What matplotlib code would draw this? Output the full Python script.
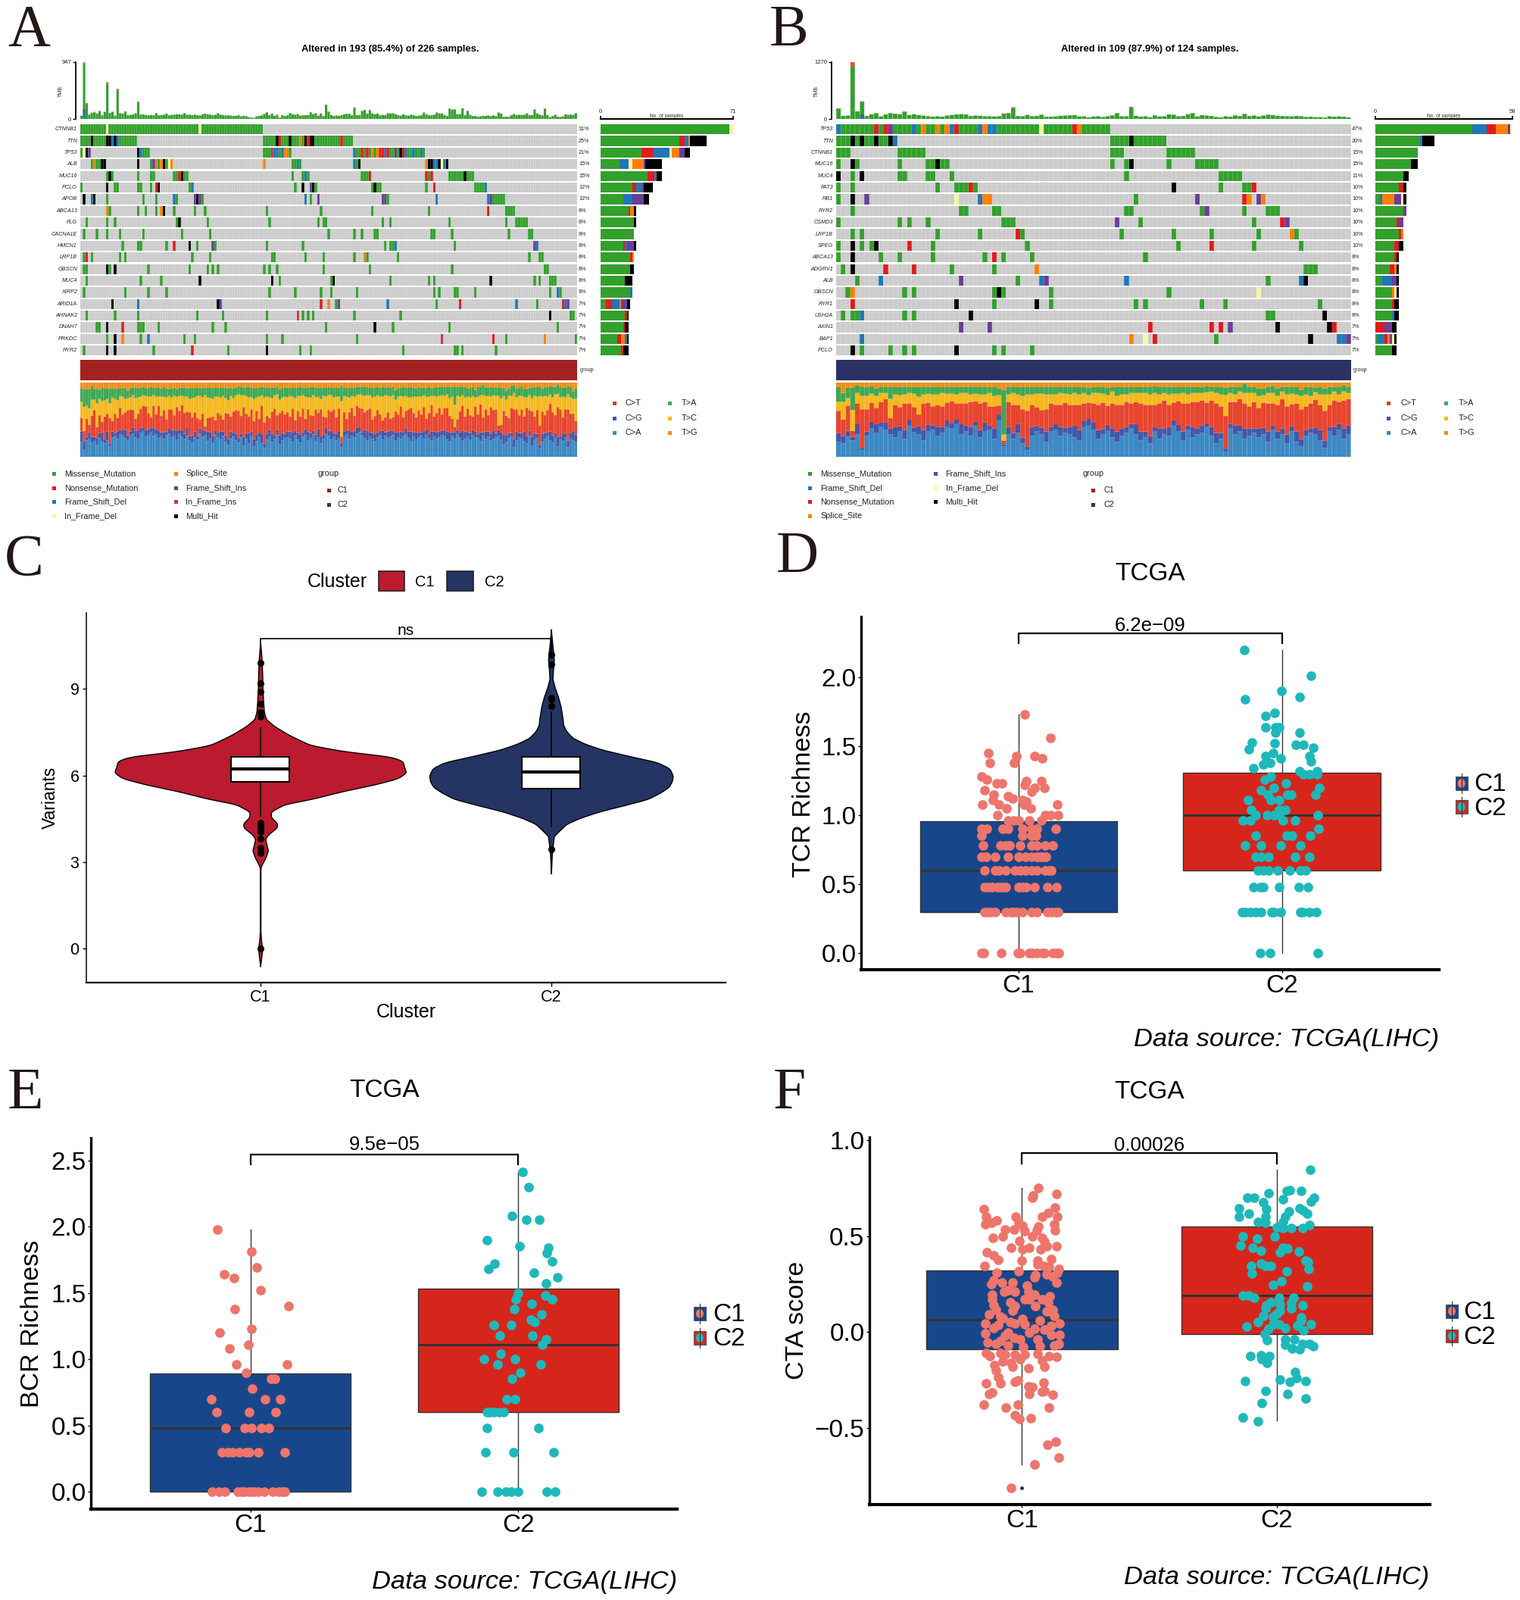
#!/usr/bin/env python3
"""Six panel figure: two oncoplots, a violin plot and three box/jitter plots."""

from __future__ import annotations

import re

import matplotlib

matplotlib.use("Agg")
import matplotlib.pyplot as plt
import numpy as np
from matplotlib.colors import BoundaryNorm, ListedColormap
from matplotlib.patches import Ellipse, Rectangle

W, H = 2007, 2112

TYPE_COLORS = {
    "B": "#CCCCCC",  # no mutation
    "M": "#33A02C",
    "N": "#E31A1C",
    "D": "#1F78B4",
    "I": "#6A3D9A",
    "S": "#FF7F00",
    "Y": "#F7F7A0",
    "R": "#C8344A",
    "H": "#000000",
}
TITV_COLORS = ["#3C89C4", "#4557A8", "#E8452F", "#F4B91F", "#3FA854", "#EE8F1A"]
TITV_NAMES = ["C>T", "C>G", "C>A", "T>A", "T>C", "T>G"]
TITV_KEYS = ["#E8352B", "#4557A8", "#3C89C4", "#3FA854", "#F4B91F", "#EE8F1A"]
GROUP_C1 = "#A42121"
GROUP_C2 = "#2A3264"
BOX_C1 = "#17478A"
BOX_C2 = "#D6261C"
DOT_C1 = "#EE756B"
DOT_C2 = "#1FB8BA"

# ---- panel A
genes_a = ["CTNNB1", "TTN", "TP53", "ALB", "MUC16", "PCLO", "APOB", "ABCA13", "FLG", "CACNA1E",
           "HMCN1", "LRP1B", "OBSCN", "MUC4", "XIRP2", "ARID1A", "AHNAK2", "DNAH7", "PRKDC", "RYR2"]
pct_a = [31, 25, 21, 15, 15, 12, 12, 8, 8, 8, 8, 8, 8, 8, 8, 7, 7, 7, 7, 7]
events_a = [
    "0-9M 10Y 11-45M 46Y 47-70M",
    "0-3M 4H 5-9M 10H 11H 12D 13H 14D 15-21M 71-75M 76H 77N 78-80M 81H 82-84M 85S 86M 87H 88N 89H 90H 91-100M 101N 102-105M",
    "0M 1Y 2H 3I 22H 23D 24-26M 71-73M 74R 75D 76D 77M 78D 79S 80S 81M 106D 107M 108M 109N 110M 111N 112M 113S 114M 115S 116N 117N 118D 119N 120M 121M 122I 123M 124H 125N 126D 127M 128M 129D 130M 131M 132D 133M",
    "4M 5S 6M 7M 8H 9H 22H 27M 28I 29S 30M 31S 32H 33M 34Y 35S 71S 82M 83M 84D 85M 106D 107M 108H 134S 135H 136H 137D 138D 139H 140Y 141D 142H",
    "10M 11H 12M 22M 27M 28M 36M 37M 38N 39H 40M 41M 82M 86M 87D 88M 109-111M 112N 134N 135M 136N 143-148M 149H 150-152M",
    "0M 10H 13M 14M 22M 23M 27M 29N 30H 42M 43D 83M 86H 89I 90H 91M 113M 114H 115M 116M 134M 137N 153-156M 157D",
    "1H 4D 5H 10M 24M 29M 36D 37M 44I 45H 46I 47M 87D 89M 92I 117I 118I 119M 138D 158D 159I 160-164M",
    "10S 11M 22M 25M 29M 31S 32H 36M 44M 48M 72M 93M 113M 135M 158N 165-168M",
    "2M 10M 13M 37M 38H 49M 73M 92M 94M 95M 117M 120M 143M 165M 169-173M",
    "1M 6M 10M 15M 24M 39M 50M 96M 106M 109M 114M 115M 136M 137M 144M 166M 174M 175M",
    "16M 22M 23M 33M 36N 42H 45M 51I 52M 72M 86M 118M 120M 121M 122D 145M 176I 177D",
    "1M 2N 4M 15M 17M 43M 50M 74M 75M 87M 94M 106M 110S 111M 123M 174M 178M 179M",
    "1M 2M 10H 11M 13H 26M 42M 49M 51M 53M 71M 73M 76M 94M 112M 144M 180M 181M",
    "2M 23M 31M 46H 74H 77M 97M 98H 120M 135M 137M 159H 176M 178M 182-184M",
    "1M 17M 26M 33M 73M 83M 93M 97M 107M 137M 139M 145M 146M 153M 182M 185D 186M",
    "12H 22D 53H 54I 93N 96S 99M 100I 119D 138M 147N 169D 177M 187N 188D 189I",
    "2M 13M 22M 45M 55M 72M 84R 86M 88M 90M 106M 124M 182H 190M 191M",
    "6M 7M 10H 16N 22M 23M 24M 30M 51M 56M 95M 114H 121M 143M 185M",
    "10M 13H 16S 23M 26D 40M 44M 72M 78M 107M 140R 160N 165M 180S 192M",
    "1M 10H 13H 28M 43N 57M 72H 85M 89M 125M 145M 146M 148M 161M",
]
# per gene sample counts by variant type, in stacking order of the side bars
side_a = [
    "69M 2Y", "42M 3N 2D 1S 9H", "22M 6N 9D 1Y 4S 3I 3H", "10M 5D 2Y 6S 1I 9H", "25M 4N 1D 3H",
    "17M 2N 3D 1I 5H", "12M 5D 6I 3H", "15M 1N 2S 1H", "18M 1H", "18M",
    "12M 1N 1D 4I 1H", "16M 1N 1S", "16M 2H", "13M 4H", "16M 1D",
    "3M 3N 4D 1S 3I 2H", "13M 1N 1H", "12M 1N 2H", "9M 2N 2S 1D 1H", "11M 1N 3H",
]
tmb_a = [
    55, 925, 250, 72, 98, 110, 90, 125, 60, 118, 590, 100, 120, 55, 470, 95, 90, 120, 62, 68,
    75, 95, 275, 72, 78, 62, 62, 66, 60, 92, 60, 66, 70, 88, 60, 68, 70, 78, 78, 72,
    92, 70, 70, 62, 72, 62, 58, 72, 88, 76, 72, 62, 68, 90, 72, 62, 58, 60, 55, 50,
    52, 62, 42, 52, 45, 30, 22, 15, 42, 50, 60, 86, 105, 62, 88, 52, 60, 20, 62, 48,
    60, 95, 78, 70, 82, 55, 50, 62, 66, 108, 80, 96, 54, 92, 48, 230, 122, 65, 48, 58,
    52, 62, 78, 85, 86, 60, 185, 62, 62, 128, 150, 90, 140, 92, 78, 90, 60, 68, 62, 88,
    92, 96, 78, 62, 56, 76, 60, 56, 70, 62, 48, 56, 62, 100, 78, 60, 62, 70, 100, 92,
    90, 66, 48, 165, 155, 160, 80, 78, 178, 58, 135, 68, 48, 50, 38, 42, 52, 50, 58, 48,
    60, 46, 100, 88, 35, 38, 36, 62, 82, 66, 70, 68, 70, 92, 60, 62, 158, 90, 72, 58,
    168, 65, 28, 48, 70, 38, 30, 42, 78, 70, 70, 68, 95,
]
tmb_cap_a = {1: 18, 2: 14, 4: 8, 5: 8, 7: 8, 10: 22, 14: 30, 17: 8, 22: 14, 29: 8, 40: 6, 47: 8, 53: 6, 72: 8, 76: 12, 81: 6,
             86: 12, 89: 8, 95: 10, 106: 8, 109: 6, 112: 8, 119: 8, 133: 8, 138: 8, 143: 8, 149: 6, 162: 8, 174: 8, 180: 6, 186: 6}
tmb_base_a = {1: [("D", 130), ("I", 30)], 10: [("D", 8)], 86: [("D", 8)]}

ca_a = [
    20, 9, 22, 24, 19, 21, 16, 25, 20, 18, 22, 14, 26, 27, 24, 30, 28, 25, 22, 29,
    31, 26, 24, 32, 34, 27, 29, 33, 28, 30, 25, 27, 24, 29, 31, 26, 28, 23, 30, 27,
    24, 28, 22, 19, 26, 23, 31, 27, 29, 21, 25, 18, 30, 26, 23, 28, 20, 16, 24, 27,
    22, 19, 26, 15, 24, 18, 28, 14, 21, 26, 18, 12, 23, 27, 20, 24, 29, 17, 22, 25,
    26, 24, 20, 28, 23, 19, 27, 29, 22, 25, 30, 21, 26, 18, 24, 31, 28, 23, 27, 22,
    25, 13, 27, 30, 24, 28, 26, 31, 33, 29, 25, 22, 27, 24, 21, 26, 29, 23, 28, 25,
    27, 29, 22, 26, 24, 28, 30, 25, 21, 27, 23, 26, 28, 24, 29, 25, 22, 27, 24, 26,
    29, 27, 23, 21, 28, 25, 30, 26, 22, 24, 27, 23, 29, 26, 25, 21, 28, 24, 27, 22,
    24, 26, 28, 23, 17, 20, 25, 27, 13, 22, 26, 24, 21, 18, 28, 15, 23, 25, 12, 20,
    24, 27, 22, 19, 25, 14, 23, 21, 26, 13, 24, 22, 20,
]
cg_a = [
    14, 12, 5, 9, 8, 6, 10, 7, 13, 6, 12, 4, 8, 5, 10, 6, 9, 11, 7, 5,
    8, 9, 12, 7, 5, 9, 8, 6, 11, 7, 10, 6, 9, 5, 7, 10, 8, 12, 6, 9,
    7, 11, 6, 10, 8, 5, 7, 9, 6, 13, 8, 10, 5, 7, 11, 6, 9, 8, 10, 6,
    9, 7, 5, 12, 8, 14, 6, 10, 9, 7, 13, 6, 8, 9, 11, 5, 7, 12, 10, 6,
    8, 10, 13, 7, 9, 11, 6, 8, 12, 7, 5, 9, 11, 10, 6, 8, 7, 12, 5, 9,
    10, 6, 7, 5, 12, 6, 9, 8, 7, 4, 11, 13, 6, 8, 10, 7, 6, 12, 5, 9,
    8, 6, 11, 7, 10, 5, 8, 9, 13, 6, 10, 7, 5, 11, 8, 6, 12, 7, 9, 8,
    6, 9, 11, 12, 5, 8, 6, 7, 13, 10, 6, 9, 7, 8, 6, 12, 5, 10, 7, 9,
    11, 6, 8, 10, 13, 9, 7, 5, 11, 12, 6, 8, 13, 10, 7, 12, 9, 6, 4, 11,
    8, 6, 12, 9, 7, 13, 5, 10, 6, 9, 8, 12, 10,
]
ct_a = [
    18, 14, 24, 10, 28, 36, 14, 24, 14, 30, 24, 34, 14, 26, 18, 30, 20, 24, 34, 30,
    24, 16, 22, 26, 30, 32, 22, 14, 30, 20, 34, 22, 30, 16, 26, 28, 20, 32, 26, 34,
    28, 22, 32, 24, 26, 24, 12, 22, 6, 18, 20, 26, 14, 26, 22, 16, 30, 34, 20, 28,
    32, 36, 24, 40, 26, 22, 30, 24, 32, 18, 38, 28, 24, 16, 30, 36, 20, 30, 30, 26,
    26, 20, 32, 14, 30, 24, 32, 14, 30, 24, 20, 34, 22, 36, 24, 14, 28, 26, 32, 22,
    30, 8, 26, 16, 24, 32, 20, 30, 26, 32, 24, 28, 32, 18, 24, 30, 22, 14, 20, 26,
    16, 18, 28, 24, 34, 20, 24, 30, 32, 26, 20, 30, 24, 32, 14, 28, 36, 20, 26, 32,
    22, 30, 32, 22, 18, 7, 14, 28, 34, 20, 32, 24, 18, 34, 26, 38, 20, 30, 22, 36,
    28, 32, 6, 10, 32, 26, 20, 34, 40, 30, 24, 32, 20, 38, 28, 34, 22, 32, 26, 30,
    24, 30, 38, 32, 24, 40, 36, 22, 32, 42, 26, 24, 18,
]
tc_a = [
    22, 32, 18, 22, 22, 14, 32, 22, 28, 22, 20, 20, 32, 20, 24, 16, 24, 18, 16, 16,
    20, 28, 22, 16, 14, 14, 22, 28, 14, 24, 12, 26, 18, 30, 18, 16, 26, 14, 20, 12,
    22, 20, 18, 26, 20, 30, 32, 22, 42, 28, 26, 24, 32, 22, 24, 32, 20, 18, 28, 18,
    20, 22, 28, 16, 24, 26, 16, 30, 18, 30, 14, 34, 26, 28, 18, 18, 28, 18, 18, 24,
    20, 28, 16, 30, 20, 28, 18, 30, 16, 24, 28, 16, 22, 14, 28, 28, 20, 22, 16, 28,
    16, 48, 22, 30, 20, 16, 26, 14, 18, 18, 22, 20, 18, 30, 26, 20, 24, 32, 30, 22,
    30, 30, 16, 24, 14, 28, 20, 16, 14, 22, 28, 18, 24, 16, 30, 22, 12, 28, 22, 16,
    26, 16, 18, 24, 30, 30, 32, 20, 14, 26, 16, 24, 28, 12, 24, 12, 30, 18, 26, 14,
    20, 18, 40, 36, 20, 22, 30, 16, 22, 16, 26, 18, 26, 14, 20, 18, 28, 18, 40, 20,
    26, 18, 12, 20, 28, 18, 16, 28, 16, 20, 22, 20, 30,
]
ta_a = [
    18, 24, 22, 26, 18, 14, 20, 12, 18, 16, 14, 20, 12, 14, 16, 10, 12, 14, 10, 12,
    10, 14, 12, 12, 11, 10, 12, 13, 10, 12, 12, 11, 13, 12, 9, 12, 11, 10, 11, 11,
    12, 11, 15, 14, 12, 11, 11, 12, 10, 13, 14, 15, 12, 12, 13, 11, 14, 16, 11, 13,
    10, 11, 11, 10, 12, 14, 13, 14, 13, 12, 11, 14, 12, 13, 14, 10, 10, 14, 13, 12,
    13, 11, 12, 14, 11, 12, 10, 12, 13, 14, 11, 13, 12, 15, 11, 12, 11, 10, 13, 12,
    12, 20, 11, 12, 13, 11, 12, 11, 10, 11, 12, 11, 10, 13, 12, 11, 12, 13, 10, 12,
    12, 11, 13, 12, 11, 13, 11, 13, 14, 12, 11, 13, 12, 10, 12, 13, 10, 11, 13, 12,
    11, 12, 10, 15, 13, 24, 12, 13, 11, 14, 11, 13, 12, 10, 13, 11, 14, 12, 11, 13,
    10, 12, 11, 14, 11, 12, 10, 13, 10, 12, 11, 13, 12, 11, 10, 14, 12, 13, 12, 11,
    12, 13, 11, 14, 10, 12, 14, 12, 13, 11, 14, 10, 14,
]

# ---- panel B
genes_b = ["TP53", "TTN", "CTNNB1", "MUC16", "MUC4", "FAT3", "RB1", "RYR2", "CSMD3", "LRP1B",
           "SPEG", "ABCA13", "ADGRV1", "ALB", "OBSCN", "RYR1", "USH2A", "AXIN1", "BAP1", "PCLO"]
pct_b = [47, 20, 15, 15, 11, 10, 10, 10, 10, 10, 10, 8, 8, 8, 8, 8, 8, 7, 7, 7]
events_b = [
    "0D 1-7M 8N 9M 10N 11I 12-15M 16D 17M 18S 19M 20M 21S 22M 23S 24D 25N 26-29M 30D 31S 32D 33D 34-42M 43Y 44-49M 50N 51S 52-57M",
    "0-2M 3H 4M 5H 6M 7M 8H 9M 10M 11H 12D 58-61M 62H 63-69M",
    "0-2M 13-18M 58-60M 70-75M",
    "0M 3H 4M 13M 19M 20M 21H 22M 23M 58M 61M 62H 70M 76-80M",
    "0H 3M 5H 13M 14M 19M 20M 24M 61M 81-85M",
    "0M 3M 21M 25-27M 28N 29M 71H 81M 86M 87M 88N",
    "0M 3H 6I 25Y 30D 31S 32S 63M 76I 86N 87S 89I 90S",
    "3M 26M 27M 33M 34M 61M 62M 77M 78I 86M 91-93M",
    "0M 13M 15M 19M 35-37M 59I 64M 88M 94N 95I",
    "3M 5M 21M 30M 38N 39M 60M 71M 79M 89M 96S 97M",
    "0M 3H 5M 7M 8H 15N 20M 40M 72M 79N 88M 98M",
    "0M 3H 9M 13M 20M 31M 33N 35M 41M 65M",
    "1M 3H 10N 16N 24M 33M 42S 99-101M",
    "4M 9D 26I 38M 43D 44I 61D 91M 98D 99H",
    "2M 3S 14M 16M 33M 34H 35M 45M 70M 89Y",
    "3N 25H 33M 42H 45M 63M 65M 77M 82M 102M",
    "1M 3M 4M 5D 14M 16M 28H 91M 92M 103H",
    "26I 32I 66N 79N 81N 83I 93H 104H 105N",
    "5D 62S 65Y 67N 80M 100H 106D 107D 108I",
    "3H 5M 11M 14M 16M 25H 33M 35M 41M",
]
side_b = [
    "41M 6D 4N 5S 1I 1Y", "19M 1D 5H", "18M", "15M 3H", "12M 2H", "10M 2N 1H", "2M 1D 5S 3I 1Y 1H",
    "12M 1I", "9M 1N 2I", "10M 1N 1S", "8M 2N 2H", "8M 1N 1H", "6M 2N 1S 1H", "3M 4D 2I 1H",
    "7M 1S 1Y 1H", "7M 1N 2H", "7M 1D 2H", "4N 3I 2H", "1M 3D 1N 1S 1I 1Y 1H", "7M 2H",
]
tmb_b = [
    225, 70, 75, 1170, 170, 385, 65, 105, 130, 58, 100, 130, 115, 105, 165, 85, 105, 85, 75, 60,
    50, 60, 50, 75, 85, 100, 105, 100, 65, 75, 70, 60, 60, 55, 60, 105, 130, 250, 65, 60,
    90, 60, 65, 95, 50, 50, 55, 70, 75, 80, 85, 55, 60, 35, 55, 60, 45, 60, 80, 130,
    60, 60, 265, 70, 50, 60, 40, 80, 55, 60, 100, 95, 60, 65, 105, 130, 55, 85, 75, 65,
    45, 35, 60, 50, 80, 65, 110, 65, 75, 55, 75, 95, 85, 70, 65, 60, 55, 65, 60, 45,
    50, 40, 40, 30, 60, 50, 55, 50, 35,
]
tmb_cap_b = {0: 12, 3: 100, 5: 10, 35: 18, 62: 8, 86: 6, 37: 12}
tmb_base_b = {5: [("D", 60), ("I", 30)]}

ca_b = [
    20, 18, 27, 22, 30, 9, 28, 38, 32, 40, 36, 30, 26, 34, 24, 42, 33, 30, 22, 34,
    36, 28, 32, 40, 38, 44, 30, 34, 28, 42, 26, 34, 36, 24, 50, 14, 30, 24, 32, 18,
    9, 28, 34, 30, 20, 34, 36, 28, 32, 30, 26, 22, 40, 42, 36, 24, 30, 34, 26, 20,
    28, 32, 38, 30, 22, 26, 18, 34, 24, 30, 28, 42, 34, 22, 36, 26, 30, 32, 40, 28,
    18, 24, 7, 38, 30, 34, 24, 28, 32, 26, 30, 20, 36, 24, 30, 18, 34, 20, 14, 28,
    32, 30, 22, 12, 34, 28, 36, 24, 30,
]
cg_b = [
    12, 10, 8, 5, 14, 3, 6, 9, 12, 6, 10, 8, 14, 7, 12, 8, 6, 11, 14, 9,
    6, 12, 8, 9, 7, 6, 14, 8, 12, 5, 10, 12, 6, 14, 7, 3, 10, 8, 12, 8,
    5, 12, 7, 9, 14, 6, 8, 12, 7, 10, 16, 14, 8, 9, 10, 12, 7, 9, 12, 14,
    10, 8, 6, 14, 12, 8, 10, 6, 14, 8, 12, 7, 9, 12, 6, 14, 8, 10, 5, 12,
    14, 8, 4, 6, 12, 8, 14, 10, 6, 12, 9, 14, 6, 10, 8, 12, 7, 14, 10, 8,
    6, 9, 14, 10, 6, 12, 8, 14, 12,
]
ct_b = [
    30, 22, 34, 8, 28, 52, 30, 26, 22, 28, 32, 14, 30, 26, 36, 22, 28, 16, 36, 30,
    26, 30, 28, 24, 30, 22, 28, 30, 34, 28, 36, 28, 26, 30, 12, 5, 34, 38, 26, 38,
    48, 30, 26, 24, 30, 32, 26, 30, 34, 30, 28, 34, 24, 22, 26, 34, 36, 26, 34, 36,
    32, 34, 28, 30, 38, 36, 42, 30, 34, 38, 30, 24, 32, 38, 30, 34, 36, 34, 28, 36,
    40, 36, 44, 30, 32, 36, 34, 30, 36, 28, 34, 38, 30, 36, 40, 38, 30, 38, 40, 32,
    34, 38, 34, 40, 30, 36, 30, 38, 36,
]
tc_b = [
    12, 24, 10, 28, 14, 18, 18, 12, 16, 12, 8, 26, 14, 16, 12, 14, 18, 24, 12, 12,
    16, 14, 18, 12, 10, 12, 14, 14, 10, 10, 12, 10, 18, 14, 14, 8, 10, 16, 14, 18,
    22, 14, 18, 22, 20, 12, 14, 16, 12, 14, 16, 14, 14, 10, 14, 16, 12, 14, 16, 12,
    14, 10, 14, 12, 14, 16, 14, 16, 12, 10, 14, 12, 10, 14, 12, 12, 12, 10, 14, 12,
    14, 16, 28, 12, 10, 10, 14, 18, 12, 16, 10, 14, 14, 12, 10, 16, 14, 12, 18, 16,
    10, 10, 14, 22, 14, 12, 10, 12, 8,
]
ta_b = [
    20, 12, 14, 30, 10, 12, 12, 10, 10, 8, 8, 16, 10, 11, 10, 8, 9, 13, 10, 9,
    10, 10, 8, 9, 9, 10, 8, 8, 10, 9, 10, 10, 8, 12, 9, 60, 10, 8, 10, 12,
    10, 10, 9, 9, 10, 10, 10, 8, 9, 10, 8, 10, 8, 10, 8, 8, 9, 10, 6, 12,
    10, 10, 8, 8, 8, 8, 10, 9, 10, 8, 10, 9, 9, 8, 10, 8, 8, 8, 8, 6,
    8, 10, 10, 8, 10, 6, 12, 8, 8, 10, 9, 8, 9, 10, 6, 10, 9, 10, 8, 10,
    12, 6, 10, 8, 10, 6, 10, 8, 8,
]

# ---- panel C
ticks_c = [0, 3, 6, 9]
violin_y_c1 = [-0.62, -0.2, 0, 0.3, 0.6, 2.8, 2.9, 3.15, 3.4, 3.55, 3.8, 3.95, 4.2, 4.35, 4.55, 4.75, 5.0, 5.2,
               5.45, 5.7, 5.9, 6.1, 6.3, 6.5, 6.65, 6.85, 7.05, 7.2, 7.4, 7.7, 7.95, 8.2, 8.6, 9, 9.5, 10, 10.4, 10.6]
violin_w_c1 = [0, .005, .007, .003, .001, .001, .005, .018, .027, .023, .017, .027, .058, .058, .037, .037, .083, .183,
               .282, .399, .473, .502, .495, .49, .449, .282, .174, .141, .1, .05, .02, .013, .01, .008, .007, .005, .002, 0]
violin_y_c2 = [2.6, 3.25, 3.46, 3.9, 4.05, 4.32, 4.53, 4.75, 4.96, 5.18, 5.4, 5.6, 5.8, 6.0, 6.25, 6.46, 6.68, 6.9,
               7.1, 7.3, 7.53, 7.75, 7.97, 8.4, 8.7, 9.05, 9.35, 9.67, 10, 10.27, 10.5, 11.07]
violin_w_c2 = [0, .003, .005, .01, .025, .053, .1, .166, .249, .332, .375, .405, .416, .419, .407, .365, .266, .174,
               .116, .075, .053, .042, .04, .033, .025, .013, .005, .007, .01, .008, .005, 0]
box_c1 = dict(med=6.23, q1=5.77, q3=6.66, whislo=4.6, whishi=7.65,
              fliers=[0, 3.3, 3.35, 3.5, 3.8, 4.05, 4.1, 4.15, 4.2, 4.25, 4.3, 4.35, 8.05, 8.2, 8.5, 8.9, 9.2, 9.9])
box_c2 = dict(med=6.11, q1=5.55, q3=6.66, whislo=4.23, whishi=8.21, fliers=[3.45, 8.4, 8.65, 8.7, 9.85, 10.2])

# ---- panel D, (jitter offset, value)
box_d1 = dict(med=0.6, q1=0.3, q3=0.955, whislo=0.0, whishi=1.73, fliers=[])
box_d2 = dict(med=1.0, q1=0.6, q3=1.31, whislo=0.0, whishi=2.2, fliers=[])
points_d1 = [
    (-.14, 0), (-.133, 0), (-.067, 0), (-.004, 0), (.006, 0), (.04, 0), (.052, 0), (.07, 0), (.089, 0), (.098, 0), (.129, 0), (.144, 0), (.153, 0),
    (-.13, .3), (-.12, .3), (-.105, .3), (-.09, .3), (-.05, .3), (-.03, .3), (-.02, .3), (-.005, .3), (.015, .3), (.05, .3), (.07, .3), (.11, .3), (.125, .3), (.14, .3), (.15, .3),
    (-.13, .48), (-.115, .48), (-.1, .48), (-.08, .48), (-.07, .48), (-.06, .48), (-.05, .48), (0, .48), (.015, .48), (.03, .48), (.06, .48), (.11, .48), (.145, .48),
    (-.13, .6), (-.09, .6), (-.075, .6), (-.05, .6), (-.015, .6), (.005, .6), (.025, .6), (.05, .6), (.07, .6), (.1, .6), (.115, .6), (.125, .6),
    (-.14, .7), (-.125, .7), (-.09, .7), (-.04, .7), (0, .7), (.025, .7), (.05, .7), (.07, .7), (.08, .7), (.09, .7), (.105, .7),
    (-.135, .78), (-.07, .78), (-.05, .78), (-.035, .78), (.005, .78), (.05, .78), (.07, .78), (.1, .78), (.13, .78),
    (-.14, .85), (.015, .85), (.05, .85), (.065, .85),
    (-.14, .9), (-.12, .9), (-.06, .9), (-.04, .9), (.015, .9), (.05, .9), (.07, .9), (.14, .9),
    (-.04, .96), (-.02, .96), (0, .96), (.04, .96), (.085, .96),
    (-.08, 1.0), (.1, 1.0), (.12, 1.0), (.15, 1.0),
    (-.14, 1.28), (-.12, 1.26), (-.13, 1.18), (-.083, 1.23), (-.063, 1.23), (.028, 1.25), (.024, 1.22), (.085, 1.25), (.06, 1.2), (.05, 1.17), (.098, 1.2),
    (-.096, 1.15), (-.098, 1.11), (-.137, 1.08), (-.039, 1.14), (-.022, 1.12), (.015, 1.11), (.028, 1.1), (.02, 1.08), (-.074, 1.08), (-.046, 1.05), (.046, 1.05), (.148, 1.08),
    (-.115, 1.45), (-.109, 1.38), (-.009, 1.43), (-.017, 1.38), (.061, 1.43), (.09, 1.41), (.12, 1.56), (.024, 1.73),
]
points_d2 = [
    (-.083, 0), (-.046, 0), (.137, 0),
    (-.15, .3), (-.14, .3), (-.12, .3), (-.1, .3), (-.08, .3), (-.04, .3), (-.03, .3), (-.005, .3), (.07, .3), (.08, .3), (.105, .3), (.13, .3),
    (-.107, .48), (-.083, .48), (-.07, .48), (-.01, .48), (.065, .48), (.1, .48),
    (-.09, .6), (-.07, .6), (-.05, .6), (-.015, .6), (.03, .6), (.07, .6), (.09, .6),
    (-.1, .7), (-.08, .7), (-.05, .7), (.05, .7), (.105, .7),
    (-.14, .78), (-.08, .78), (-.005, .78), (.07, .78),
    (-.1, .85), (.02, .85), (.04, .85), (.107, .85), (.14, .9),
    (-.148, .96), (-.12, .96), (.005, .96), (.05, .96),
    (-.1, 1.0), (-.055, 1.0), (-.03, 1.0), (-.01, 1.0), (.137, 1.0),
    (-.116, 1.04), (.013, 1.04), (-.011, 1.04), (-.129, 1.11), (-.052, 1.15), (-.011, 1.11), (-.043, 1.11), (-.08, 1.18), (.022, 1.15), (.035, 1.15), (.128, 1.15),
    (.142, 1.2), (-.03, 1.2), (.017, 1.23), (-.066, 1.26), (-.041, 1.28), (-.107, 1.34), (-.07, 1.37), (-.046, 1.38), (-.061, 1.43), (-.033, 1.45), (-.004, 1.41),
    (.104, 1.43), (.111, 1.39), (.068, 1.32), (.081, 1.3), (.105, 1.3), (.133, 1.32), (.133, 1.3),
    (-.126, 1.48), (-.113, 1.53), (-.028, 1.52), (.054, 1.51), (.081, 1.51), (.118, 1.49), (.068, 1.6), (-.024, 1.6), (-.061, 1.64), (-.024, 1.64), (-.009, 1.64),
    (-.061, 1.72), (-.028, 1.74), (-.139, 1.84), (.067, 1.86), (-.002, 1.9), (.111, 2.01), (-.142, 2.2),
]

# ---- panel E
box_e1 = dict(med=0.48, q1=0.0, q3=0.89, whislo=0.0, whishi=1.98, fliers=[])
box_e2 = dict(med=1.11, q1=0.6, q3=1.53, whislo=0.0, whishi=2.41, fliers=[])
points_e1 = [
    (-.143, 0), (-.12, 0), (-.097, 0), (-.047, 0), (-.035, 0), (-.025, 0), (-.007, 0), (.002, 0), (.011, 0), (.029, 0), (.052, 0), (.083, 0), (.106, 0), (.12, 0), (.128, 0),
    (-.106, .3), (-.085, .3), (-.067, .3), (-.043, .3), (-.016, .3), (-.004, .3), (.029, .3), (.128, .3),
    (-.094, .48), (-.022, .48), (.002, .48), (.04, .48), (.069, .48),
    (-.126, .6), (-.004, .6), (.094, .6), (-.146, .7), (.054, .7), (.11, .7), (.005, .78), (.076, .85), (.09, .85), (-.018, .9),
    (-.054, .96), (.135, .96), (-.079, 1.08), (-.009, 1.11), (-.117, 1.2), (.002, 1.23), (-.058, 1.38), (.141, 1.4), (.038, 1.52),
    (-.063, 1.61), (-.099, 1.64), (.023, 1.69), (.002, 1.81), (-.125, 1.98),
]
points_e2 = [
    (-.137, 0), (-.076, 0), (-.045, 0), (-.027, 0), (0, 0), (.108, 0), (.139, 0),
    (-.123, .3), (-.018, .3), (.134, .3), (-.116, .48), (.076, .48),
    (-.117, .6), (-.105, .6), (-.092, .6), (-.072, .6), (-.054, .6), (-.042, .7), (-.013, .7),
    (-.023, .85), (.009, .9), (-.078, .96), (.085, .96), (-.128, 1.0), (-.011, 1.0), (-.065, 1.04), (.09, 1.11), (.105, 1.15),
    (-.069, 1.18), (.052, 1.18), (-.092, 1.26), (-.027, 1.26), (.049, 1.3), (.063, 1.28), (.088, 1.34), (-.014, 1.38), (.051, 1.42),
    (-.009, 1.45), (.101, 1.48), (.126, 1.45), (0, 1.5), (.103, 1.57), (.06, 1.65), (.146, 1.62), (-.112, 1.68), (-.088, 1.72),
    (.126, 1.74), (.106, 1.8), (.114, 1.84), (.004, 1.85), (-.117, 1.9), (.031, 2.05), (.078, 2.05), (-.023, 2.08), (.04, 2.3), (.016, 2.41),
]

# ---- panel F
box_f1 = dict(med=0.065, q1=-0.09, q3=0.32, whislo=-0.693, whishi=0.752, fliers=[-0.815])
box_f2 = dict(med=0.189, q1=-0.013, q3=0.548, whislo=-0.463, whishi=0.847, fliers=[])
points_f1 = [
    (.065, .75), (.137, .72), (.044, .71), (.04, .70), (.13, .65), (-.15, .64), (-.14, .60), (.103, .62), (.078, .60), (.14, .60),
    (-.025, .60), (-.10, .58), (-.12, .57), (-.145, .56), (-.013, .57), (.002, .555), (.126, .56), (.065, .55), (.13, .53), (-.065, .535),
    (-.032, .535), (.057, .53), (-.075, .50), (.011, .525), (.04, .50), (-.113, .49), (.08, .49), (-.01, .475), (.088, .47), (-.044, .44),
    (.002, .43), (.03, .44), (.074, .43), (.097, .447), (.137, .447), (-.137, .417), (-.11, .40), (-.092, .375), (0, .37), (.06, .37),
    (.115, .38), (.06, .35), (.084, .343), (-.147, .343), (.107, .34), (.145, .33), (-.013, .318), (.14, .31), (-.098, .31), (.053, .295),
    (.097, .30), (.05, .285), (.122, .29), (-.11, .267), (-.078, .258), (-.036, .258), (.135, .258), (-.12, .25), (.02, .24), (-.055, .217),
    (-.07, .21), (.027, .21), (-.027, .21), (-.116, .195), (.05, .195), (.11, .187), (.011, .17), (.03, .17), (.078, .17), (-.118, .17),
    (-.046, .155), (.103, .155), (-.11, .14), (-.027, .133), (.053, .133), (.122, .115), (-.103, .115), (-.036, .11), (.097, .106), (-.13, .09),
    (-.084, .08), (.126, .085), (-.075, .07), (.002, .066), (.07, .06), (-.046, .052), (-.145, .043), (.149, .043), (-.027, .043), (-.094, .034),
    (.011, .038), (.116, .03), (-.11, .02), (.05, .016), (.088, .013), (-.055, -.002), (-.145, -.007), (.149, -.014), (.03, -.002), (.116, -.014),
    (-.065, -.02), (-.03, -.03), (-.008, -.038), (.06, -.04), (-.084, -.047), (-.135, -.056), (.145, -.065), (-.103, -.065), (-.055, -.07), (.07, -.074),
    (.126, -.07), (.006, -.077), (-.14, -.11), (-.084, -.11), (-.027, -.12), (.011, -.12), (.06, -.113), (.107, -.127), (.135, -.13), (-.126, -.127),
    (-.065, -.118), (-.008, -.142), (.078, -.15), (-.075, -.154), (-.042, -.16), (-.107, -.172), (.088, -.18), (-.036, -.18), (.027, -.19), (-.103, -.2),
    (-.094, -.235), (-.015, -.253), (-.14, -.27), (-.084, -.27), (-.027, -.262), (.084, -.266), (.027, -.285), (.042, -.29), (.078, -.312), (.088, -.307),
    (-.116, -.316), (-.13, -.325), (.12, -.327), (.03, -.325), (-.15, -.379), (-.015, -.379), (.107, -.397), (-.063, -.397), (-.029, -.433), (-.011, -.456),
    (.034, -.45), (.132, -.573), (.099, -.587), (.145, -.657), (.05, -.693), (-.044, -.815),
]
points_f2 = [
    (.13, .847), (.052, .74), (.094, .734), (.038, .734), (-.034, .725), (-.115, .70), (-.088, .70), (.023, .69), (.147, .70), (.134, .68),
    (-.053, .677), (-.042, .64), (-.149, .645), (.09, .645), (.048, .63), (-.11, .618), (.103, .632), (.118, .618), (-.149, .60), (-.044, .60),
    (.032, .60), (-.073, .573), (-.044, .57), (.023, .573), (.128, .558), (0, .546), (.057, .542), (.1, .54), (.023, .542), (-.134, .497),
    (-.076, .487), (-.008, .497), (-.143, .452), (-.095, .438), (-.063, .425), (.023, .438), (.042, .434), (.013, .417), (.086, .42), (.113, .372),
    (.122, .363), (-.063, .357), (-.044, .345), (-.025, .345), (-.1, .345), (.124, .329), (.04, .318), (-.097, .303), (.019, .264), (-.015, .246),
    (.118, .237), (-.134, .19), (-.11, .19), (-.088, .18), (.01, .18), (.065, .178), (-.025, .154), (.057, .15), (-.04, .138), (.013, .142),
    (.1, .138), (-.044, .124), (.057, .124), (.013, .11), (-.053, .084), (-.015, .079), (0, .097), (.095, .074), (-.073, .052), (.095, .06),
    (-.118, .029), (-.015, .038), (.008, .04), (.032, .02), (.08, .03), (.134, .038), (-.034, .016), (.103, .007), (-.046, -.011), (-.038, -.043),
    (.032, -.041), (.067, -.041), (.1, -.065), (.032, -.068), (.128, -.065), (.143, -.074), (.061, -.088), (.09, -.092), (-.105, -.127), (-.063, -.124),
    (-.031, -.127), (-.059, -.142), (-.038, -.16), (.071, -.208), (.076, -.239), (-.126, -.257), (.011, -.25), (.052, -.262), (.113, -.257), (-.044, -.31),
    (.042, -.325), (.113, -.347), (-.059, -.37), (-.134, -.445), (-.073, -.465),
]


def px_axes(fig, x0, y0, x1, y1):
    return fig.add_axes([x0 / W, 1 - y1 / H, (x1 - x0) / W, (y1 - y0) / H])


def px_text(fig, x, y, text, **kwargs):
    kwargs.setdefault("ha", "center")
    kwargs.setdefault("va", "center")
    return fig.text(x / W, 1 - y / H, text, **kwargs)


def px_rect(fig, x0, y0, x1, y1, **kwargs):
    fig.add_artist(Rectangle((x0 / W, 1 - y1 / H), (x1 - x0) / W, (y1 - y0) / H, transform=fig.transFigure, **kwargs))


def parse_events(text, n_samples):
    row = ["B"] * n_samples
    for first, last, kind in re.findall(r"(\d+)(?:-(\d+))?([A-Z])", text):
        for col in range(int(first), int(last or first) + 1):
            row[col] = kind
    return row


def unsnapped_bar(ax, *args, **kwargs):
    # thin columns pick up uneven gaps when they snap to whole pixels
    for patch in ax.bar(*args, linewidth=0, **kwargs):
        patch.set_snap(False)


def draw_oncoplot(fig, geom, title, genes, pct, events, side, tmb, cap, base, titv, n_altered, group_color, legend):
    x0, x1 = geom["x0"], geom["x1"]
    n = n_altered
    kinds = list(TYPE_COLORS)
    cmap = ListedColormap([TYPE_COLORS[k] for k in kinds])
    norm = BoundaryNorm(np.arange(len(kinds) + 1) - 0.5, len(kinds))

    px_text(fig, geom["title_x"], 65, title, fontsize=9.4, fontweight="bold")

    # TMB bars
    ax = px_axes(fig, x0, 82, x1, 157)
    unsnapped_bar(ax, np.arange(n), tmb, width=0.92, color=TYPE_COLORS["M"])
    for col, height in cap.items():
        unsnapped_bar(ax, col, height, bottom=tmb[col], width=0.92, color="#E8502A")
    for col, segments in base.items():
        bottom = 0
        for kind, height in segments:
            unsnapped_bar(ax, col, height, bottom=bottom, width=0.92, color=TYPE_COLORS[kind])
            bottom += height
    ax.set_xlim(-0.5, n - 0.5)
    ax.set_ylim(0, geom["tmb_max"])
    for name in ("top", "right", "bottom"):
        ax.spines[name].set_visible(False)
    ax.spines["left"].set_position(("outward", 4))
    ax.spines["left"].set_linewidth(1.3)
    ax.set_xticks([])
    ax.set_yticks([0, geom["tmb_max"]])
    ax.tick_params(axis="y", labelsize=5.5, length=3, width=1, pad=1.5, labelcolor="#222222")
    px_text(fig, geom["tmb_label_x"], 120, "TMB", fontsize=5, rotation=90, color="#222222")

    # main matrix
    ax = px_axes(fig, x0, 163, x1, 470.5)
    edges = np.arange(n + 1) - 0.5
    for index, text in enumerate(events):
        row = parse_events(text, n)
        values = np.array([[kinds.index(k) for k in row]])
        ax.pcolormesh(edges, [index + 0.07, index + 0.93], values, cmap=cmap, norm=norm, linewidth=0)
        px_y = 163 + (index + 0.5) * 15.37
        px_text(fig, geom["gene_x"], px_y, genes[index], fontsize=5.2, style="italic", ha="right", color="#222222")
        px_text(fig, geom["pct_x"], px_y, f"{pct[index]}%", fontsize=5.2, ha="left", color="#222222")
    ax.vlines(edges, 0, 20, color="white", alpha=0.35, linewidth=0.4, snap=False)
    ax.set_xlim(-0.5, n - 0.5)
    ax.set_ylim(20, 0)
    ax.axis("off")

    # side bars
    ax = px_axes(fig, geom["side0"], 163, geom["side1"], 470.5)
    for index, text in enumerate(side):
        left = 0
        for count, kind in re.findall(r"(\d+)([A-Z])", text):
            ax.barh(index + 0.5, int(count), left=left, height=0.86, color=TYPE_COLORS[kind], linewidth=0)
            left += int(count)
    ax.set_xlim(0, geom["side_max"])
    ax.set_ylim(20, 0)
    for name in ("left", "right", "bottom"):
        ax.spines[name].set_visible(False)
    ax.spines["top"].set_position(("outward", 4))
    ax.spines["top"].set_linewidth(1.5)
    ax.xaxis.tick_top()
    ax.set_xticks([0, geom["side_max"]])
    ax.tick_params(axis="x", labelsize=5.5, length=3, width=1.2, pad=1.5, labelcolor="#222222")
    ax.set_yticks([])
    px_text(fig, (geom["side0"] + geom["side1"]) / 2, 153, "No. of samples", fontsize=4.8, color="#222222")

    # group annotation
    px_rect(fig, x0, 475, x1, 502, facecolor=group_color, edgecolor="none")
    px_text(fig, geom["pct_x"] + 2, 489, "group", fontsize=5.2, ha="left", color="#222222")

    # transition / transversion fractions
    ax = px_axes(fig, x0, 505, x1, 603)
    shares = [np.array(part, dtype=float) for part in titv]
    shares.append(np.clip(100 - np.sum(shares, axis=0), 0, None))
    bottom = np.zeros(n)
    for part, color in zip(shares, TITV_COLORS):
        unsnapped_bar(ax, np.arange(n), part, bottom=bottom, width=1.0, color=color)
        bottom += part
    ax.set_xlim(-0.5, n - 0.5)
    ax.set_ylim(0, 100)
    ax.axis("off")

    # legends
    rows = [532, 552, 571]
    for index, (name, color) in enumerate(zip(TITV_NAMES, TITV_KEYS)):
        key_x, text_x = geom["titv_legend"][index // 3]
        y = rows[index % 3]
        px_rect(fig, key_x - 2.5, y - 2.5, key_x + 2.5, y + 2.5, facecolor=color, edgecolor="none")
        px_text(fig, text_x, y, name, fontsize=7.8, ha="left", color="#222222")
    rows = [625, 644, 662.5, 681]
    for (key_x, text_x), items in zip(geom["var_legend"], legend):
        for y, (name, kind) in zip(rows, items):
            px_rect(fig, key_x - 2.5, y - 2.5, key_x + 2.5, y + 2.5, facecolor=TYPE_COLORS[kind], edgecolor="none")
            px_text(fig, text_x, y, name, fontsize=7.8, ha="left", color="#222222")
    title_x, key_x, text_x = geom["group_legend"]
    px_text(fig, title_x, 625, "group", fontsize=7.8, ha="left", color="#222222")
    for y, name, color in ((647, "C1", GROUP_C1), (666, "C2", GROUP_C2)):
        px_rect(fig, key_x - 2.5, y - 2.5, key_x + 2.5, y + 2.5, facecolor=color, edgecolor="none")
        px_text(fig, text_x, y, name, fontsize=7.8, ha="left", color="#222222")


def draw_violin(fig):
    ax = px_axes(fig, 113.5, 808.6, 958, 1297)
    for center, ys, widths, color, stats in (
        (1, violin_y_c1, violin_w_c1, "#BC1A2E", box_c1),
        (2, violin_y_c2, violin_w_c2, "#243463", box_c2),
    ):
        # the outline was read at a few heights; round its corners for drawing
        fine_y = np.arange(ys[0], ys[-1] + 0.01, 0.01)
        fine_w = np.interp(fine_y, ys, widths)
        kernel = np.ones(13) / 13
        fine_w = np.convolve(fine_w, kernel, mode="same")
        ax.fill_betweenx(fine_y, center - fine_w, center + fine_w, facecolor=color, edgecolor="black", linewidth=1.0, zorder=2)
        ax.bxp([stats], positions=[center], widths=0.2, patch_artist=True, showcaps=False,
               boxprops=dict(facecolor="white", edgecolor="black", linewidth=1.5),
               medianprops=dict(color="black", linewidth=3),
               whiskerprops=dict(color="black", linewidth=1.2),
               flierprops=dict(marker="o", markerfacecolor="black", markeredgecolor="black", markersize=5.5),
               zorder=3)
    ax.plot([1, 1, 2, 2], [10.3, 10.74, 10.74, 10.3], color="black", linewidth=1.2, zorder=4)
    ax.text(1.5, 11.03, "ns", ha="center", va="center", fontsize=15)
    ax.set_xlim(0.4005, 2.6)
    ax.set_ylim(-1.18, 11.65)
    ax.set_xticks([1, 2], ["C1", "C2"])
    ax.set_yticks(ticks_c)
    ax.tick_params(labelsize=15.5, length=3.5, width=1, pad=3)
    for name in ("top", "right"):
        ax.spines[name].set_visible(False)
    ax.spines["left"].set_linewidth(1.1)
    ax.spines["bottom"].set_linewidth(1.6)
    px_text(fig, 66, 1053, "Variants", fontsize=16.5, rotation=90)
    px_text(fig, 536, 1336, "Cluster", fontsize=18)
    px_text(fig, 445, 768, "Cluster", fontsize=18)
    px_rect(fig, 500, 754, 534, 780, facecolor="#BC1A2E", edgecolor="#222222", linewidth=1.2)
    px_text(fig, 548, 768, "C1", fontsize=14.5, ha="left")
    px_rect(fig, 590, 754, 625, 780, facecolor="#243463", edgecolor="#222222", linewidth=1.2)
    px_text(fig, 640, 768, "C2", fontsize=14.5, ha="left")


def draw_jitter(fig, geom, stats, points, ylabel, pvalue):
    ax = px_axes(fig, *geom["axes"])
    for center, stat, box_color, dots, dot_color in (
        (1, stats[0], BOX_C1, points[0], DOT_C1),
        (2, stats[1], BOX_C2, points[1], DOT_C2),
    ):
        ax.bxp([stat], positions=[center], widths=0.75, patch_artist=True, showcaps=False,
               boxprops=dict(facecolor=box_color, edgecolor="#333333", linewidth=1),
               medianprops=dict(color="#333333", linewidth=2.2),
               whiskerprops=dict(color="#333333", linewidth=1),
               flierprops=dict(marker="o", markerfacecolor="#333333", markeredgecolor="#333333", markersize=2.5),
               zorder=2)
        dots = np.array(dots)
        ax.scatter(center + dots[:, 0], dots[:, 1], s=84, color=dot_color, linewidth=0, zorder=3)
    low, high = geom["bracket"]
    ax.plot([1, 1, 2, 2], [low, high, high, low], color="black", linewidth=1.6, zorder=4)
    ax.set_xlim(*geom["xlim"])
    ax.set_ylim(*geom["ylim"])
    ax.set_xticks([1, 2], ["C1", "C2"])
    ax.set_yticks(geom["ticks"], [f"{t:.1f}".replace("-", "\u2212") for t in geom["ticks"]])
    ax.tick_params(labelsize=24, length=3, width=1, pad=1.5)
    for name in ("top", "right"):
        ax.spines[name].set_visible(False)
    ax.spines["left"].set_linewidth(2.4)
    ax.spines["bottom"].set_linewidth(3)

    px_text(fig, geom["center_x"], geom["title_y"] + 3, "TCGA", fontsize=24)
    px_text(fig, geom["center_x"], geom["p_y"] + 1, pvalue, fontsize=18.5)
    px_text(fig, geom["ylabel"][0], geom["ylabel"][1], ylabel, fontsize=24.5, rotation=90)
    px_text(fig, geom["source"][0], geom["source"][1] + 3, "Data source: TCGA(LIHC)", fontsize=24.8, style="italic", ha="right")

    key_x0, key_x1, text_x = geom["key_x"]
    for (y0, y1), box_color, dot_color, name in zip(geom["key_y"], (BOX_C1, BOX_C2), (DOT_C1, DOT_C2), ("C1", "C2")):
        mid_x = (key_x0 + key_x1) / 2
        mid_y = (y0 + y1) / 2
        fig.add_artist(plt.Line2D([mid_x / W, mid_x / W], [1 - (y0 - 4) / H, 1 - (y1 + 4) / H],
                                  color="#333333", linewidth=0.8, transform=fig.transFigure))
        px_rect(fig, key_x0, y0, key_x1, y1, facecolor=box_color, edgecolor="#555555", linewidth=0.8)
        fig.add_artist(Ellipse((mid_x / W, 1 - mid_y / H), 10 / W, 12 / H, facecolor=dot_color, edgecolor="none",
                               transform=fig.transFigure))
        px_text(fig, text_x, mid_y + 2, name, fontsize=24, ha="left")


def main():
    plt.rcParams["font.family"] = ["Liberation Sans", "DejaVu Sans"]
    fig = plt.figure(figsize=(W / 100, H / 100), dpi=100, facecolor="white")

    for x, y, letter in ((38, 41, "A"), (1042, 41, "B"), (32, 740, "C"), (1053, 736, "D"), (34, 1444, "E"), (1042, 1444, "F")):
        px_text(fig, x, y, letter, fontsize=56, family="Liberation Serif", color="#231815")

    geom_a = dict(x0=106, x1=762, title_x=515, tmb_max=947, tmb_label_x=80, gene_x=102, pct_x=764,
                  side0=793, side1=968, side_max=71, titv_legend=[(811, 826), (884, 900)],
                  var_legend=[(71, 85), (232, 245.5)], group_legend=(420, 434, 446))
    legend_a = [
        [("Missense_Mutation", "M"), ("Nonsense_Mutation", "N"), ("Frame_Shift_Del", "D"), ("In_Frame_Del", "Y")],
        [("Splice_Site", "S"), ("Frame_Shift_Ins", "I"), ("In_Frame_Ins", "R"), ("Multi_Hit", "H")],
    ]
    draw_oncoplot(fig, geom_a, "Altered in 193 (85.4%) of 226 samples.", genes_a, pct_a, events_a, side_a,
                  tmb_a, tmb_cap_a, tmb_base_a, [ca_a, cg_a, ct_a, tc_a, ta_a], 193, GROUP_C1, legend_a)

    geom_b = dict(x0=1104, x1=1783.6, title_x=1518, tmb_max=1270, tmb_label_x=1078, gene_x=1100, pct_x=1785,
                  side0=1816, side1=1997, side_max=58, titv_legend=[(1833, 1850), (1909, 1926)],
                  var_legend=[(1069, 1083), (1235, 1248.5)], group_legend=(1430, 1443, 1457))
    legend_b = [
        [("Missense_Mutation", "M"), ("Frame_Shift_Del", "D"), ("Nonsense_Mutation", "N"), ("Splice_Site", "S")],
        [("Frame_Shift_Ins", "I"), ("In_Frame_Del", "Y"), ("Multi_Hit", "H")],
    ]
    draw_oncoplot(fig, geom_b, "Altered in 109 (87.9%) of 124 samples.", genes_b, pct_b, events_b, side_b,
                  tmb_b, tmb_cap_b, tmb_base_b, [ca_b, cg_b, ct_b, tc_b, ta_b], 109, GROUP_C2, legend_b)

    draw_violin(fig)

    draw_jitter(fig, dict(axes=(1136.8, 814, 1900, 1280), xlim=(0.401, 2.597), ylim=(-0.12, 2.44),
                          ticks=[0.0, 0.5, 1.0, 1.5, 2.0], bracket=(2.25, 2.32), center_x=1519, title_y=755, p_y=825,
                          ylabel=(1061, 1048), source=(1900, 1369), key_x=(1921.6, 1937.8, 1946.7),
                          key_y=[(1025, 1043), (1056, 1074)]),
                (box_d1, box_d2), (points_d1, points_d2), "TCR Richness", "6.2e\u221209")
    draw_jitter(fig, dict(axes=(120, 1502, 894, 1992), xlim=(0.403, 2.594), ylim=(-0.131, 2.67),
                          ticks=[0.0, 0.5, 1.0, 1.5, 2.0, 2.5], bracket=(2.47, 2.547), center_x=507.6, title_y=1436, p_y=1510,
                          ylabel=(43, 1747), source=(894, 2086), key_x=(916, 932, 941),
                          key_y=[(1725, 1743), (1757, 1775)]),
                (box_e1, box_e2), (points_e1, points_e2), "BCR Richness", "9.5e\u221205")
    draw_jitter(fig, dict(axes=(1147.7, 1501, 1887.6, 1986), xlim=(0.401, 2.599), ylim=(-0.901, 1.016),
                          ticks=[-0.5, 0.0, 0.5, 1.0], bracket=(0.877, 0.933), center_x=1517.7, title_y=1438.6, p_y=1511,
                          ylabel=(1052.7, 1743), source=(1887.6, 2080), key_x=(1909, 1925, 1932.6),
                          key_y=[(1721.5, 1740), (1755, 1772)]),
                (box_f1, box_f2), (points_f1, points_f2), "CTA score", "0.00026")

    fig.savefig("out.png", dpi=100, facecolor="white")
    plt.close(fig)
    return 0


if __name__ == "__main__":
    raise SystemExit(main())
